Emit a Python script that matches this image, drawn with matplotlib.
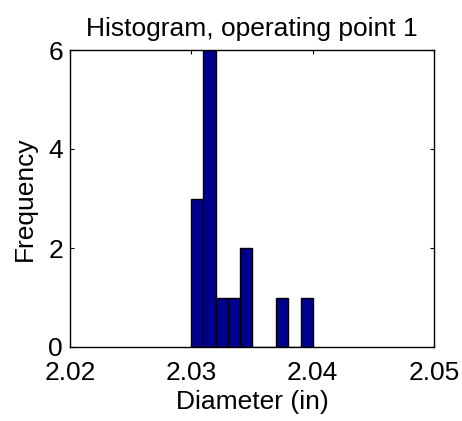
import numpy as np
import matplotlib
matplotlib.use("Agg")
import matplotlib.pyplot as plt

# histogram bins (0.001 in wide) and counts
bin_left = [2.030, 2.031, 2.032, 2.033, 2.034, 2.035, 2.036, 2.037, 2.038, 2.039]
counts = [3, 6, 1, 1, 2, 0, 0, 1, 0, 1]
bin_width = 0.001

plt.rcParams['font.family'] = ['Liberation Sans', 'DejaVu Sans']
plt.rcParams['font.size'] = 19

fig = plt.figure(figsize=(4.62, 4.21), dpi=100)
# axes box: x 70..434 px, y 50..347 px
ax = fig.add_axes([70 / 462, 1 - 347 / 421, 364 / 462, 297 / 421])

edges = np.array(bin_left)
ax.bar(edges, counts, width=bin_width, align='edge',
       color=(0, 0, 0.5625), edgecolor='black', linewidth=1.0)

ax.set_xlim(2.02, 2.05)
ax.set_ylim(0, 6)
ax.set_xticks([2.02, 2.03, 2.04, 2.05])
ax.set_xticklabels(['2.02', '2.03', '2.04', '2.05'])
ax.set_yticks([0, 2, 4, 6])
ax.tick_params(direction='in', top=True, right=True, length=3, width=0.8,
               labelsize=19)
ax.tick_params(axis='x', pad=10)
ax.tick_params(axis='y', pad=5)
for s in ax.spines.values():
    s.set_linewidth(1.0)

ax.set_xlabel('Diameter (in)', fontsize=19, labelpad=4)
ax.set_ylabel('Frequency', fontsize=19, labelpad=8)
ax.set_title('Histogram, operating point 1', fontsize=19, pad=10)

fig.savefig('out.png', dpi=100)
